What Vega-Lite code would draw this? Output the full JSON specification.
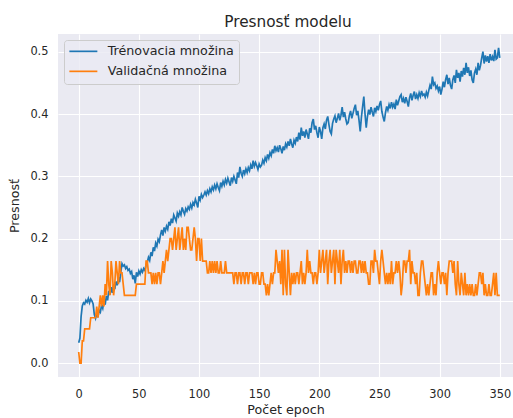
{
  "$schema": "https://vega.github.io/schema/vega-lite/v6.json",
  "autosize": {"type": "none"},
  "padding": {"left": 58, "top": 34, "right": 0, "bottom": 41},
  "width": 455,
  "height": 343,
  "background": "#ffffff",
  "title": {"text": "Presnosť modelu", "font": "DejaVu Sans", "fontSize": 15.3, "fontWeight": "normal", "color": "#262626", "anchor": "middle", "baseline": "alphabetic", "offset": 8, "dx": 2.5, "dy": 16},
  "config": {
    "view": {"fill": "#eaeaf2", "stroke": null},
    "axis": {"grid": true, "gridColor": "#ffffff", "gridWidth": 1.1, "domain": false, "ticks": false, "labelFont": "DejaVu Sans", "labelFontSize": 11.4, "labelColor": "#262626", "titleFont": "DejaVu Sans", "titleFontSize": 12.7, "titleFontWeight": "normal", "titleColor": "#262626"}
  },
  "data": {"values": [
{"e":0,"t":0.033,"v":0.018},{"e":1,"t":0.040,"v":0},{"e":2,"t":0.075,"v":0},{"e":3,"t":0.092,"v":0.036},{"e":4,"t":0.097,"v":0.036},{"e":5,"t":0.095,"v":0.055},{"e":6,"t":0.101,"v":0.055},{"e":7,"t":0.098,"v":0.055},{"e":8,"t":0.104,"v":0.055},{"e":9,"t":0.097,"v":0.055},
{"e":10,"t":0.103,"v":0.073},{"e":11,"t":0.100,"v":0.073},{"e":12,"t":0.095,"v":0.073},{"e":13,"t":0.078,"v":0.073},{"e":14,"t":0.072,"v":0.073},{"e":15,"t":0.080,"v":0.091},{"e":16,"t":0.074,"v":0.073},{"e":17,"t":0.085,"v":0.091},{"e":18,"t":0.082,"v":0.109},{"e":19,"t":0.093,"v":0.091},
{"e":20,"t":0.088,"v":0.109},{"e":21,"t":0.100,"v":0.091},{"e":22,"t":0.094,"v":0.127},{"e":23,"t":0.108,"v":0.109},{"e":24,"t":0.101,"v":0.164},{"e":25,"t":0.116,"v":0.127},{"e":26,"t":0.110,"v":0.109},{"e":27,"t":0.122,"v":0.164},{"e":28,"t":0.113,"v":0.145},{"e":29,"t":0.126,"v":0.109},
{"e":30,"t":0.119,"v":0.127},{"e":31,"t":0.131,"v":0.164},{"e":32,"t":0.125,"v":0.145},{"e":33,"t":0.138,"v":0.127},{"e":34,"t":0.130,"v":0.164},{"e":35,"t":0.146,"v":0.145},{"e":36,"t":0.160,"v":0.145},{"e":37,"t":0.156,"v":0.127},{"e":38,"t":0.158,"v":0.109},{"e":39,"t":0.152,"v":0.109},
{"e":40,"t":0.155,"v":0.109},{"e":41,"t":0.149,"v":0.109},{"e":42,"t":0.151,"v":0.109},{"e":43,"t":0.144,"v":0.109},{"e":44,"t":0.147,"v":0.109},{"e":45,"t":0.135,"v":0.109},{"e":46,"t":0.141,"v":0.109},{"e":47,"t":0.128,"v":0.109},{"e":48,"t":0.146,"v":0.127},{"e":49,"t":0.139,"v":0.127},
{"e":50,"t":0.148,"v":0.127},{"e":51,"t":0.143,"v":0.127},{"e":52,"t":0.150,"v":0.127},{"e":53,"t":0.146,"v":0.127},{"e":54,"t":0.152,"v":0.127},{"e":55,"t":0.149,"v":0.127},{"e":56,"t":0.158,"v":0.164},{"e":57,"t":0.162,"v":0.164},{"e":58,"t":0.170,"v":0.145},{"e":59,"t":0.165,"v":0.145},
{"e":60,"t":0.178,"v":0.145},{"e":61,"t":0.172,"v":0.127},{"e":62,"t":0.186,"v":0.145},{"e":63,"t":0.180,"v":0.127},{"e":64,"t":0.193,"v":0.145},{"e":65,"t":0.188,"v":0.127},{"e":66,"t":0.199,"v":0.145},{"e":67,"t":0.195,"v":0.145},{"e":68,"t":0.206,"v":0.127},{"e":69,"t":0.214,"v":0.145},
{"e":70,"t":0.205,"v":0.164},{"e":71,"t":0.218,"v":0.145},{"e":72,"t":0.212,"v":0.164},{"e":73,"t":0.220,"v":0.182},{"e":74,"t":0.215,"v":0.164},{"e":75,"t":0.227,"v":0.182},{"e":76,"t":0.221,"v":0.2},{"e":77,"t":0.232,"v":0.2},{"e":78,"t":0.225,"v":0.182},{"e":79,"t":0.238,"v":0.2},
{"e":80,"t":0.233,"v":0.218},{"e":81,"t":0.228,"v":0.182},{"e":82,"t":0.241,"v":0.2},{"e":83,"t":0.236,"v":0.218},{"e":84,"t":0.243,"v":0.182},{"e":85,"t":0.238,"v":0.2},{"e":86,"t":0.250,"v":0.218},{"e":87,"t":0.244,"v":0.182},{"e":88,"t":0.239,"v":0.2},{"e":89,"t":0.248,"v":0.182},
{"e":90,"t":0.244,"v":0.218},{"e":91,"t":0.251,"v":0.218},{"e":92,"t":0.247,"v":0.2},{"e":93,"t":0.255,"v":0.182},{"e":94,"t":0.249,"v":0.182},{"e":95,"t":0.258,"v":0.2},{"e":96,"t":0.254,"v":0.218},{"e":97,"t":0.263,"v":0.2},{"e":98,"t":0.257,"v":0.164},{"e":99,"t":0.250,"v":0.2},
{"e":100,"t":0.268,"v":0.2},{"e":101,"t":0.262,"v":0.164},{"e":102,"t":0.271,"v":0.2},{"e":103,"t":0.266,"v":0.164},{"e":104,"t":0.270,"v":0.164},{"e":105,"t":0.275,"v":0.164},{"e":106,"t":0.270,"v":0.164},{"e":107,"t":0.277,"v":0.145},{"e":108,"t":0.272,"v":0.145},{"e":109,"t":0.280,"v":0.164},
{"e":110,"t":0.275,"v":0.145},{"e":111,"t":0.283,"v":0.164},{"e":112,"t":0.278,"v":0.145},{"e":113,"t":0.286,"v":0.164},{"e":114,"t":0.280,"v":0.145},{"e":115,"t":0.288,"v":0.164},{"e":116,"t":0.282,"v":0.145},{"e":117,"t":0.277,"v":0.145},{"e":118,"t":0.290,"v":0.164},{"e":119,"t":0.284,"v":0.145},
{"e":120,"t":0.292,"v":0.145},{"e":121,"t":0.286,"v":0.145},{"e":122,"t":0.295,"v":0.164},{"e":123,"t":0.289,"v":0.145},{"e":124,"t":0.297,"v":0.145},{"e":125,"t":0.291,"v":0.145},{"e":126,"t":0.285,"v":0.145},{"e":127,"t":0.298,"v":0.145},{"e":128,"t":0.292,"v":0.145},{"e":129,"t":0.300,"v":0.127},
{"e":130,"t":0.294,"v":0.145},{"e":131,"t":0.288,"v":0.145},{"e":132,"t":0.306,"v":0.127},{"e":133,"t":0.298,"v":0.145},{"e":134,"t":0.315,"v":0.145},{"e":135,"t":0.305,"v":0.127},{"e":136,"t":0.300,"v":0.145},{"e":137,"t":0.310,"v":0.145},{"e":138,"t":0.304,"v":0.127},{"e":139,"t":0.312,"v":0.145},
{"e":140,"t":0.306,"v":0.145},{"e":141,"t":0.314,"v":0.127},{"e":142,"t":0.309,"v":0.145},{"e":143,"t":0.318,"v":0.145},{"e":144,"t":0.312,"v":0.145},{"e":145,"t":0.325,"v":0.127},{"e":146,"t":0.316,"v":0.145},{"e":147,"t":0.322,"v":0.127},{"e":148,"t":0.317,"v":0.145},{"e":149,"t":0.311,"v":0.145},
{"e":150,"t":0.320,"v":0.127},{"e":151,"t":0.315,"v":0.127},{"e":152,"t":0.318,"v":0.145},{"e":153,"t":0.326,"v":0.145},{"e":154,"t":0.321,"v":0.127},{"e":155,"t":0.330,"v":0.127},{"e":156,"t":0.325,"v":0.109},{"e":157,"t":0.335,"v":0.127},{"e":158,"t":0.329,"v":0.109},{"e":159,"t":0.338,"v":0.127},
{"e":160,"t":0.333,"v":0.145},{"e":161,"t":0.343,"v":0.127},{"e":162,"t":0.337,"v":0.145},{"e":163,"t":0.349,"v":0.145},{"e":164,"t":0.341,"v":0.182},{"e":165,"t":0.346,"v":0.164},{"e":166,"t":0.339,"v":0.145},{"e":167,"t":0.350,"v":0.164},{"e":168,"t":0.344,"v":0.127},{"e":169,"t":0.337,"v":0.182},
{"e":170,"t":0.348,"v":0.109},{"e":171,"t":0.342,"v":0.182},{"e":172,"t":0.352,"v":0.127},{"e":173,"t":0.347,"v":0.109},{"e":174,"t":0.356,"v":0.182},{"e":175,"t":0.349,"v":0.145},{"e":176,"t":0.360,"v":0.109},{"e":177,"t":0.352,"v":0.145},{"e":178,"t":0.346,"v":0.127},{"e":179,"t":0.358,"v":0.145},
{"e":180,"t":0.353,"v":0.127},{"e":181,"t":0.363,"v":0.145},{"e":182,"t":0.356,"v":0.145},{"e":183,"t":0.370,"v":0.127},{"e":184,"t":0.359,"v":0.145},{"e":185,"t":0.378,"v":0.164},{"e":186,"t":0.365,"v":0.127},{"e":187,"t":0.372,"v":0.145},{"e":188,"t":0.362,"v":0.127},{"e":189,"t":0.375,"v":0.145},
{"e":190,"t":0.368,"v":0.182},{"e":191,"t":0.360,"v":0.145},{"e":192,"t":0.377,"v":0.164},{"e":193,"t":0.370,"v":0.145},{"e":194,"t":0.386,"v":0.145},{"e":195,"t":0.392,"v":0.127},{"e":196,"t":0.375,"v":0.145},{"e":197,"t":0.381,"v":0.145},{"e":198,"t":0.370,"v":0.127},{"e":199,"t":0.362,"v":0.145},
{"e":200,"t":0.379,"v":0.182},{"e":201,"t":0.372,"v":0.145},{"e":202,"t":0.360,"v":0.164},{"e":203,"t":0.378,"v":0.182},{"e":204,"t":0.384,"v":0.145},{"e":205,"t":0.376,"v":0.164},{"e":206,"t":0.390,"v":0.182},{"e":207,"t":0.396,"v":0.127},{"e":208,"t":0.383,"v":0.164},{"e":209,"t":0.372,"v":0.182},
{"e":210,"t":0.368,"v":0.145},{"e":211,"t":0.385,"v":0.164},{"e":212,"t":0.392,"v":0.182},{"e":213,"t":0.397,"v":0.127},{"e":214,"t":0.386,"v":0.182},{"e":215,"t":0.393,"v":0.164},{"e":216,"t":0.401,"v":0.145},{"e":217,"t":0.390,"v":0.182},{"e":218,"t":0.398,"v":0.127},{"e":219,"t":0.411,"v":0.164},
{"e":220,"t":0.395,"v":0.182},{"e":221,"t":0.403,"v":0.145},{"e":222,"t":0.392,"v":0.164},{"e":223,"t":0.384,"v":0.145},{"e":224,"t":0.386,"v":0.164},{"e":225,"t":0.398,"v":0.164},{"e":226,"t":0.405,"v":0.145},{"e":227,"t":0.393,"v":0.164},{"e":228,"t":0.401,"v":0.145},{"e":229,"t":0.409,"v":0.164},
{"e":230,"t":0.415,"v":0.164},{"e":231,"t":0.398,"v":0.145},{"e":232,"t":0.405,"v":0.145},{"e":233,"t":0.390,"v":0.164},{"e":234,"t":0.372,"v":0.164},{"e":235,"t":0.395,"v":0.145},{"e":236,"t":0.412,"v":0.164},{"e":237,"t":0.428,"v":0.145},{"e":238,"t":0.400,"v":0.164},{"e":239,"t":0.378,"v":0.145},
{"e":240,"t":0.396,"v":0.145},{"e":241,"t":0.407,"v":0.127},{"e":242,"t":0.399,"v":0.127},{"e":243,"t":0.411,"v":0.164},{"e":244,"t":0.403,"v":0.164},{"e":245,"t":0.396,"v":0.145},{"e":246,"t":0.410,"v":0.182},{"e":247,"t":0.404,"v":0.164},{"e":248,"t":0.413,"v":0.164},{"e":249,"t":0.406,"v":0.145},
{"e":250,"t":0.415,"v":0.127},{"e":251,"t":0.421,"v":0.164},{"e":252,"t":0.404,"v":0.182},{"e":253,"t":0.395,"v":0.164},{"e":254,"t":0.388,"v":0.145},{"e":255,"t":0.402,"v":0.127},{"e":256,"t":0.412,"v":0.145},{"e":257,"t":0.406,"v":0.127},{"e":258,"t":0.415,"v":0.145},{"e":259,"t":0.409,"v":0.127},
{"e":260,"t":0.419,"v":0.164},{"e":261,"t":0.411,"v":0.127},{"e":262,"t":0.416,"v":0.145},{"e":263,"t":0.408,"v":0.145},{"e":264,"t":0.423,"v":0.164},{"e":265,"t":0.414,"v":0.145},{"e":266,"t":0.421,"v":0.164},{"e":267,"t":0.428,"v":0.145},{"e":268,"t":0.431,"v":0.109},{"e":269,"t":0.419,"v":0.127},
{"e":270,"t":0.425,"v":0.164},{"e":271,"t":0.417,"v":0.164},{"e":272,"t":0.427,"v":0.145},{"e":273,"t":0.420,"v":0.164},{"e":274,"t":0.412,"v":0.164},{"e":275,"t":0.426,"v":0.182},{"e":276,"t":0.433,"v":0.127},{"e":277,"t":0.422,"v":0.164},{"e":278,"t":0.430,"v":0.145},{"e":279,"t":0.436,"v":0.145},
{"e":280,"t":0.424,"v":0.127},{"e":281,"t":0.431,"v":0.145},{"e":282,"t":0.425,"v":0.109},{"e":283,"t":0.434,"v":0.109},{"e":284,"t":0.428,"v":0.145},{"e":285,"t":0.437,"v":0.164},{"e":286,"t":0.430,"v":0.164},{"e":287,"t":0.432,"v":0.145},{"e":288,"t":0.427,"v":0.127},{"e":289,"t":0.435,"v":0.109},
{"e":290,"t":0.429,"v":0.127},{"e":291,"t":0.438,"v":0.109},{"e":292,"t":0.446,"v":0.127},{"e":293,"t":0.440,"v":0.145},{"e":294,"t":0.460,"v":0.145},{"e":295,"t":0.447,"v":0.109},{"e":296,"t":0.450,"v":0.127},{"e":297,"t":0.441,"v":0.109},{"e":298,"t":0.445,"v":0.145},{"e":299,"t":0.437,"v":0.164},
{"e":300,"t":0.444,"v":0.145},{"e":301,"t":0.431,"v":0.127},{"e":302,"t":0.440,"v":0.145},{"e":303,"t":0.452,"v":0.145},{"e":304,"t":0.443,"v":0.127},{"e":305,"t":0.455,"v":0.145},{"e":306,"t":0.463,"v":0.109},{"e":307,"t":0.448,"v":0.145},{"e":308,"t":0.458,"v":0.164},{"e":309,"t":0.446,"v":0.164},
{"e":310,"t":0.440,"v":0.164},{"e":311,"t":0.455,"v":0.145},{"e":312,"t":0.462,"v":0.164},{"e":313,"t":0.450,"v":0.127},{"e":314,"t":0.471,"v":0.109},{"e":315,"t":0.458,"v":0.164},{"e":316,"t":0.466,"v":0.127},{"e":317,"t":0.452,"v":0.109},{"e":318,"t":0.469,"v":0.145},{"e":319,"t":0.460,"v":0.127},
{"e":320,"t":0.474,"v":0.109},{"e":321,"t":0.463,"v":0.145},{"e":322,"t":0.482,"v":0.109},{"e":323,"t":0.466,"v":0.127},{"e":324,"t":0.475,"v":0.109},{"e":325,"t":0.461,"v":0.127},{"e":326,"t":0.470,"v":0.109},{"e":327,"t":0.455,"v":0.127},{"e":328,"t":0.450,"v":0.109},{"e":329,"t":0.466,"v":0.109},
{"e":330,"t":0.472,"v":0.127},{"e":331,"t":0.463,"v":0.109},{"e":332,"t":0.482,"v":0.127},{"e":333,"t":0.470,"v":0.145},{"e":334,"t":0.478,"v":0.145},{"e":335,"t":0.490,"v":0.127},{"e":336,"t":0.500,"v":0.145},{"e":337,"t":0.481,"v":0.109},{"e":338,"t":0.494,"v":0.127},{"e":339,"t":0.484,"v":0.109},
{"e":340,"t":0.493,"v":0.109},{"e":341,"t":0.482,"v":0.127},{"e":342,"t":0.496,"v":0.109},{"e":343,"t":0.486,"v":0.109},{"e":344,"t":0.492,"v":0.127},{"e":345,"t":0.485,"v":0.145},{"e":346,"t":0.503,"v":0.109},{"e":347,"t":0.488,"v":0.145},{"e":348,"t":0.490,"v":0.109},{"e":349,"t":0.506,"v":0.109},
{"e":350,"t":0.490,"v":0.109}
  ]},
  "transform": [{"fold": ["t", "v"], "as": ["series", "acc"]}],
  "mark": {"type": "line", "strokeWidth": 1.7, "clip": true},
  "encoding": {
    "x": {"field": "e", "type": "quantitative", "scale": {"domain": [-17.2, 361], "nice": false, "zero": false},
      "axis": {"values": [0, 50, 100, 150, 200, 250, 300, 350], "title": "Počet epoch", "labelPadding": 11, "titlePadding": 4, "labelFlush": false, "labelOverlap": false}},
    "y": {"field": "acc", "type": "quantitative", "scale": {"domain": [-0.0221, 0.5284], "nice": false, "zero": false},
      "axis": {"values": [0, 0.1, 0.2, 0.3, 0.4, 0.5], "format": ".1f", "title": "Presnosť", "labelPadding": 10, "titlePadding": 8, "labelFlush": false, "labelOverlap": false}},
    "color": {"field": "series", "type": "nominal",
      "scale": {"domain": ["t", "v"], "range": ["#1f77b4", "#ff7f0e"]},
      "legend": {"orient": "top-left", "offset": 6, "title": null, "fillColor": "rgba(234,234,242,0.8)", "strokeColor": "#cccccc", "cornerRadius": 3, "padding": 5, "symbolType": "M-1.2,0H4.4", "symbolSize": 100, "symbolStrokeWidth": 1.7, "labelFont": "DejaVu Sans", "labelFontSize": 12.7, "labelColor": "#262626", "labelOffset": 26, "rowPadding": 6,
        "labelExpr": "datum.value == 't' ? 'Trénovacia množina' : 'Validačná množina'"}}
  }
}
